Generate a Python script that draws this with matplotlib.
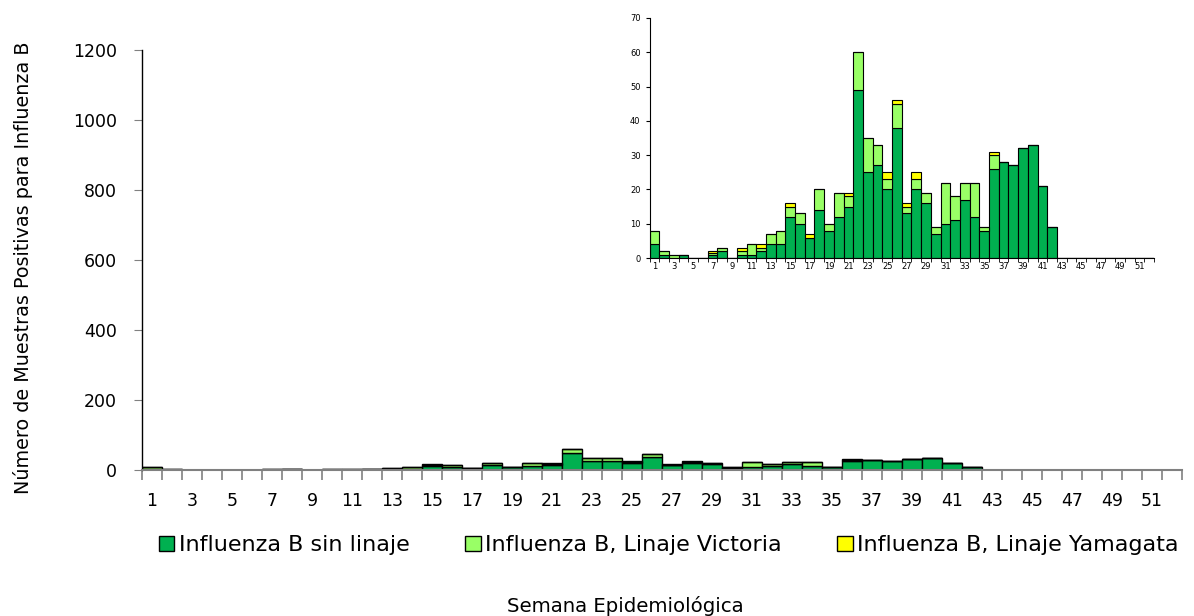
import matplotlib
matplotlib.use("Agg")
import matplotlib.pyplot as plt
from matplotlib.patches import Patch
import numpy as np

weeks = list(range(1, 53))

# Influenza B sin linaje
sin_linaje = [4, 1, 0, 1, 0, 0, 1, 2, 0, 1, 1, 2, 4, 4, 12, 10, 6, 14, 8, 12,
              15, 49, 25, 27, 20, 38, 13, 20, 16, 7, 10, 11, 17, 12, 8, 26, 28, 27, 32, 33,
              21, 9] + [0] * 10
# Influenza B, Linaje Victoria
victoria = [4, 1, 1, 0, 0, 0, 0.5, 1, 0, 1, 3, 1, 3, 4, 3, 3, 0, 6, 2, 7,
            3, 11, 10, 6, 3, 7, 2, 3, 3, 2, 12, 7, 5, 10, 1, 4, 0, 0, 0, 0,
            0, 0] + [0] * 10
# Influenza B, Linaje Yamagata
yamagata = [0, 0, 0, 0, 0, 0, 0.5, 0, 0, 1, 0, 1, 0, 0, 1, 0, 1, 0, 0, 0,
            1, 0, 0, 0, 2, 1, 1, 2, 0, 0, 0, 0, 0, 0, 0, 1, 0, 0, 0, 0,
            0, 0] + [0] * 10

labels = ["Influenza B sin linaje", "Influenza B, Linaje Victoria", "Influenza B, Linaje Yamagata"]
colors = ["#00B050", "#99FF66", "#FFFF00"]

plt.rcParams["font.family"] = ["DejaVu Sans"]


def draw_bars(ax, lw):
    x = np.arange(len(weeks))
    sin = np.array(sin_linaje, dtype=float)
    vic = np.array(victoria, dtype=float)
    yam = np.array(yamagata, dtype=float)
    ax.bar(x, sin, width=1.0, color=colors[0], edgecolor="black", linewidth=lw)
    ax.bar(x, vic, width=1.0, bottom=sin, color=colors[1], edgecolor="black", linewidth=lw)
    ax.bar(x, yam, width=1.0, bottom=sin + vic, color=colors[2], edgecolor="black", linewidth=lw)
    ax.set_xlim(-0.5, len(weeks) - 0.5)
    ax.set_xticks(x[::2])
    ax.set_xticklabels([str(w) for w in weeks[::2]])
    ax.set_xticks(np.arange(-0.5, len(weeks)), minor=True)
    ax.tick_params(axis="x", which="major", length=0)
    ax.tick_params(axis="x", which="minor", direction="out", color="#808080")
    for s in ["top", "right"]:
        ax.spines[s].set_visible(False)
    ax.spines["bottom"].set_color("#808080")


fig = plt.figure(figsize=(11.94, 6.16), dpi=100)

ax = fig.add_axes([0.119, 0.237, 0.871, 0.682])
draw_bars(ax, 1.0)
ax.set_ylim(0, 1200)
ax.set_yticks(range(0, 1201, 200))
ax.tick_params(axis="x", which="major", labelsize=12.5, pad=16)
ax.tick_params(axis="x", which="minor", length=7, width=1.2)
ax.tick_params(axis="y", labelsize=12.5, length=6, color="#808080", pad=12)
ax.spines["bottom"].set_linewidth(1.5)
ax.spines["left"].set_linewidth(1.0)

fig.text(0.019, 0.565, "Número de Muestras Positivas para Influenza B", rotation=90,
         ha="center", va="center", fontsize=13.8)

handles = [Patch(facecolor=c, edgecolor="black", label=l) for c, l in zip(colors, labels)]
fig.legend(handles=handles, loc="center", bbox_to_anchor=(0.56, 0.115), ncol=3,
           frameon=False, fontsize=16, handlelength=0.7, handleheight=0.7,
           handletextpad=0.2, columnspacing=2.5)

fig.text(0.524, 0.016, "Semana Epidemiológica", ha="center", va="center", fontsize=14.2)

ins = fig.add_axes([0.544, 0.581, 0.4225, 0.390])
draw_bars(ins, 0.8)
ins.set_ylim(0, 70)
ins.set_yticks(range(0, 71, 10))
ins.tick_params(axis="x", which="major", labelsize=6, pad=3)
ins.tick_params(axis="x", which="minor", length=3, color="black")
ins.tick_params(axis="y", labelsize=6, length=3)
ins.spines["bottom"].set_color("black")

fig.savefig("out.png", dpi=100)
